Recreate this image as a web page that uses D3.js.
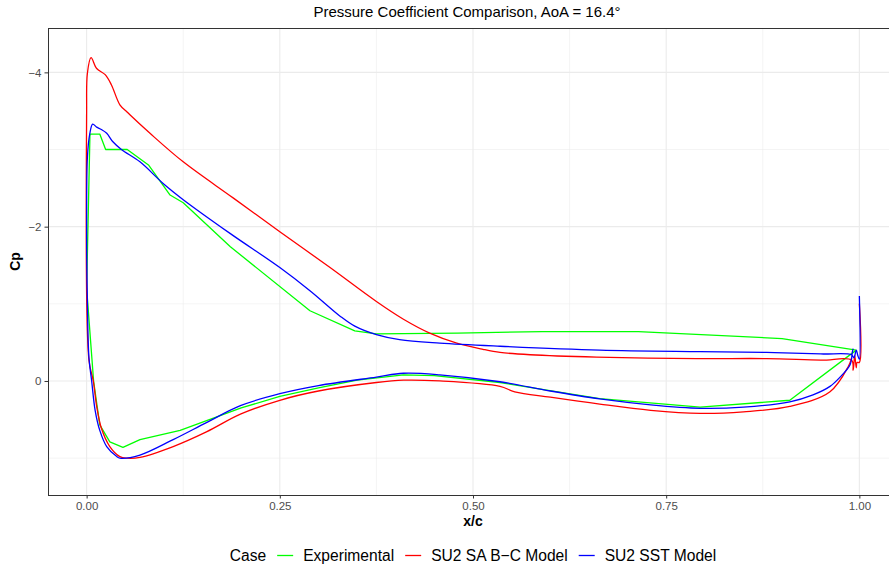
<!DOCTYPE html>
<html>
<head>
<meta charset="utf-8">
<script src="https://cdn.jsdelivr.net/npm/d3@7"></script>
<style>
  body { margin: 0; background: #fff; }
  svg { display: block; font-family: "Liberation Sans", Arial, sans-serif; }
</style>
</head>
<body>
<div class="graph"></div>
<script>
// Data, each loop: TE -> upper surface -> LE -> lower surface -> TE
var expX = [0.996, 0.90, 0.714, 0.59, 0.48, 0.375, 0.347, 0.289, 0.186, 0.125, 0.108, 0.080, 0.0525, 0.0246, 0.017, 0.0043, 0.0,
            0.009, 0.017, 0.030, 0.047, 0.069, 0.121, 0.20, 0.25, 0.30, 0.35, 0.41, 0.45, 0.535, 0.664, 0.794, 0.91, 0.996];
var expCp = [-0.40, -0.55, -0.64, -0.64, -0.62, -0.61, -0.65, -0.91, -1.74, -2.31, -2.41, -2.80, -3.00, -3.00, -3.20, -3.20, -1.2,
             0.0, 0.57, 0.79, 0.86, 0.76, 0.64, 0.35, 0.20, 0.09, -0.01, -0.08, -0.07, 0.02, 0.23, 0.34, 0.25, -0.40];

var saX = [1.0, 1.0, 0.997, 0.996, 0.994, 0.992, 0.990, 0.95, 0.88, 0.79, 0.66, 0.574, 0.535, 0.513, 0.479, 0.444, 0.41, 0.375, 0.315, 0.25, 0.19, 0.125, 0.082, 0.056, 0.052, 0.043, 0.032, 0.024, 0.013, 0.0057, 0.001, 0.0,
           0.003, 0.0086, 0.013, 0.019, 0.030, 0.043, 0.052, 0.069, 0.112, 0.155, 0.199, 0.25, 0.30, 0.375, 0.41, 0.457, 0.535, 0.554, 0.60, 0.664, 0.73, 0.794, 0.85, 0.91, 0.962, 0.9855, 0.990];
var saCp = [-1.0, -0.24, -0.24, -0.17, -0.33, -0.14, -0.27, -0.27, -0.29, -0.29, -0.31, -0.34, -0.37, -0.41, -0.49, -0.62, -0.80, -1.03, -1.47, -1.935, -2.37, -2.84, -3.21, -3.45, -3.49, -3.58, -3.84, -3.97, -4.05, -4.19, -3.99, -3.5,
            -0.27, 0.0, 0.33, 0.61, 0.85, 0.98, 1.0, 0.99, 0.85, 0.66, 0.43, 0.25, 0.13, 0.02, -0.01, 0.0, 0.07, 0.14, 0.21, 0.30, 0.38, 0.42, 0.40, 0.33, 0.14, -0.185, -0.30];

var sstX = [1.0, 1.0, 0.998, 0.996, 0.993, 0.990, 0.95, 0.88, 0.794, 0.664, 0.535, 0.457, 0.405, 0.375, 0.347, 0.328, 0.289, 0.25, 0.186, 0.125, 0.099, 0.069, 0.045, 0.034, 0.026, 0.019, 0.013, 0.0078, 0.004, 0.001, 0.0,
            0.001, 0.003, 0.0065, 0.011, 0.017, 0.026, 0.039, 0.043, 0.069, 0.112, 0.155, 0.199, 0.25, 0.30, 0.375, 0.41, 0.457, 0.535, 0.60, 0.664, 0.73, 0.794, 0.85, 0.91, 0.94, 0.962, 0.975, 0.988, 0.991, 0.992];
var sstCp = [-1.10, -0.28, -0.33, -0.40, -0.30, -0.34, -0.35, -0.37, -0.38, -0.40, -0.45, -0.49, -0.535, -0.60, -0.71, -0.84, -1.17, -1.47, -1.91, -2.35, -2.56, -2.84, -3.00, -3.10, -3.21, -3.26, -3.29, -3.33, -3.20, -2.90, -2.0,
             -1.0, -0.3, 0.0, 0.38, 0.64, 0.85, 0.98, 1.0, 0.96, 0.76, 0.54, 0.32, 0.165, 0.06, -0.05, -0.10, -0.08, 0.01, 0.13, 0.233, 0.31, 0.355, 0.34, 0.27, 0.18, 0.07, -0.05, -0.21, -0.38, -0.42];

var caseNames = ["Experimental", "SU2 SA B\u2212C Model", "SU2 SST Model"];
var caseColors = ["#00ff00", "#ff0000", "#0000ff"];
var xTicks = [0, 0.25, 0.5, 0.75, 1];
var xMinor = [0.125, 0.375, 0.625, 0.875];
var yTicks = [-4, -2, 0];
var yMinor = [-3, -1, 1];

var series = [
    {name: caseNames[0], x: expX, cp: expCp, smooth: false},
    {name: caseNames[1], x: saX, cp: saCp, smooth: true},
    {name: caseNames[2], x: sstX, cp: sstCp, smooth: true}
];

// Config
var width = 889;
var height = 567;
var panel = {left: 48, top: 28, right: 898, bottom: 495};

var svg = d3.select(".graph").append("svg")
    .attr("width", width)
    .attr("height", height);

var x = d3.scaleLinear().domain([-0.05, 1.05]).range([panel.left, panel.right]);
var y = d3.scaleLinear().domain([-4.575, 1.478]).range([panel.top, panel.bottom]);
var color = d3.scaleOrdinal().domain(caseNames).range(caseColors);

svg.append("defs").append("clipPath").attr("id", "clip")
    .append("rect")
    .attr("x", panel.left).attr("y", panel.top)
    .attr("width", panel.right - panel.left).attr("height", panel.bottom - panel.top);

// grid
var grid = svg.append("g");
grid.selectAll(".xminor").data(xMinor).enter().append("line")
    .attr("x1", d => x(d)).attr("x2", d => x(d))
    .attr("y1", panel.top).attr("y2", panel.bottom)
    .attr("stroke", "#ebebeb").attr("stroke-width", 0.55);
grid.selectAll(".yminor").data(yMinor).enter().append("line")
    .attr("y1", d => y(d)).attr("y2", d => y(d))
    .attr("x1", panel.left).attr("x2", panel.right)
    .attr("stroke", "#ebebeb").attr("stroke-width", 0.55);
grid.selectAll(".xmajor").data(xTicks).enter().append("line")
    .attr("x1", d => x(d)).attr("x2", d => x(d))
    .attr("y1", panel.top).attr("y2", panel.bottom)
    .attr("stroke", "#ebebeb").attr("stroke-width", 1.1);
grid.selectAll(".ymajor").data(yTicks).enter().append("line")
    .attr("y1", d => y(d)).attr("y2", d => y(d))
    .attr("x1", panel.left).attr("x2", panel.right)
    .attr("stroke", "#ebebeb").attr("stroke-width", 1.1);

// lines
var lineLin = d3.line()
    .x(d => x(d[0]))
    .y(d => y(d[1]));
var lineSmooth = d3.line()
    .curve(d3.curveCatmullRom.alpha(0.5))
    .x(d => x(d[0]))
    .y(d => y(d[1]));

svg.append("g").attr("clip-path", "url(#clip)")
    .selectAll("path").data(series).enter().append("path")
    .attr("d", d => (d.smooth ? lineSmooth : lineLin)(d.x.map((v, i) => [v, d.cp[i]])))
    .attr("fill", "none")
    .attr("stroke", d => color(d.name))
    .attr("stroke-width", 1.3)
    .attr("stroke-linejoin", "round");

// panel border
svg.append("rect")
    .attr("x", panel.left + 0.5).attr("y", panel.top + 0.5)
    .attr("width", panel.right - panel.left).attr("height", panel.bottom - panel.top)
    .attr("fill", "none").attr("stroke", "#333333").attr("stroke-width", 1);

// axes
var xAxis = svg.append("g")
    .attr("transform", "translate(0," + panel.bottom + ")")
    .call(d3.axisBottom(x).tickValues(xTicks).tickFormat(d3.format(".2f")).tickSize(3.5).tickPadding(3));
var yAxis = svg.append("g")
    .attr("transform", "translate(" + panel.left + ",0)")
    .call(d3.axisLeft(y).tickValues(yTicks).tickFormat(d => d3.format("d")(d).replace("-", "\u2212")).tickSize(3.5).tickPadding(3));
[xAxis, yAxis].forEach(function (a) {
    a.select(".domain").remove();
    a.selectAll(".tick line").attr("stroke", "#333333");
    a.selectAll(".tick text").attr("fill", "#4d4d4d").style("font-size", "11.5px")
        .style("font-family", "'Liberation Sans', Arial, sans-serif");
});

// titles
svg.append("text")
    .attr("x", 467).attr("y", 17)
    .attr("text-anchor", "middle")
    .style("font-size", "15px")
    .text("Pressure Coefficient Comparison, AoA = 16.4\u00b0");
svg.append("text")
    .attr("x", x(0.5)).attr("y", 526)
    .attr("text-anchor", "middle")
    .style("font-size", "14px").style("font-weight", "bold")
    .text("x/c");
svg.append("text")
    .attr("transform", "translate(20," + ((panel.top + panel.bottom) / 2) + ") rotate(-90)")
    .attr("text-anchor", "middle")
    .style("font-size", "14px").style("font-weight", "bold")
    .text("Cp");

// legend
var legend = svg.append("g");
var lx = 0;
var lt = legend.append("text").attr("x", lx).attr("y", 561).style("font-size", "15.6px").text("Case");
lx += lt.node().getComputedTextLength() + 11;
caseNames.forEach(function (n) {
    legend.append("line")
        .attr("x1", lx).attr("x2", lx + 16)
        .attr("y1", 555.5).attr("y2", 555.5)
        .attr("stroke", color(n)).attr("stroke-width", 1.3);
    lx += 16 + 10;
    var t = legend.append("text").attr("x", lx).attr("y", 561).style("font-size", "15.6px").text(n);
    lx += t.node().getComputedTextLength() + 11;
});
lx -= 11;
legend.attr("transform", "translate(" + (473 - lx / 2) + ",0)");
</script>
</body>
</html>
